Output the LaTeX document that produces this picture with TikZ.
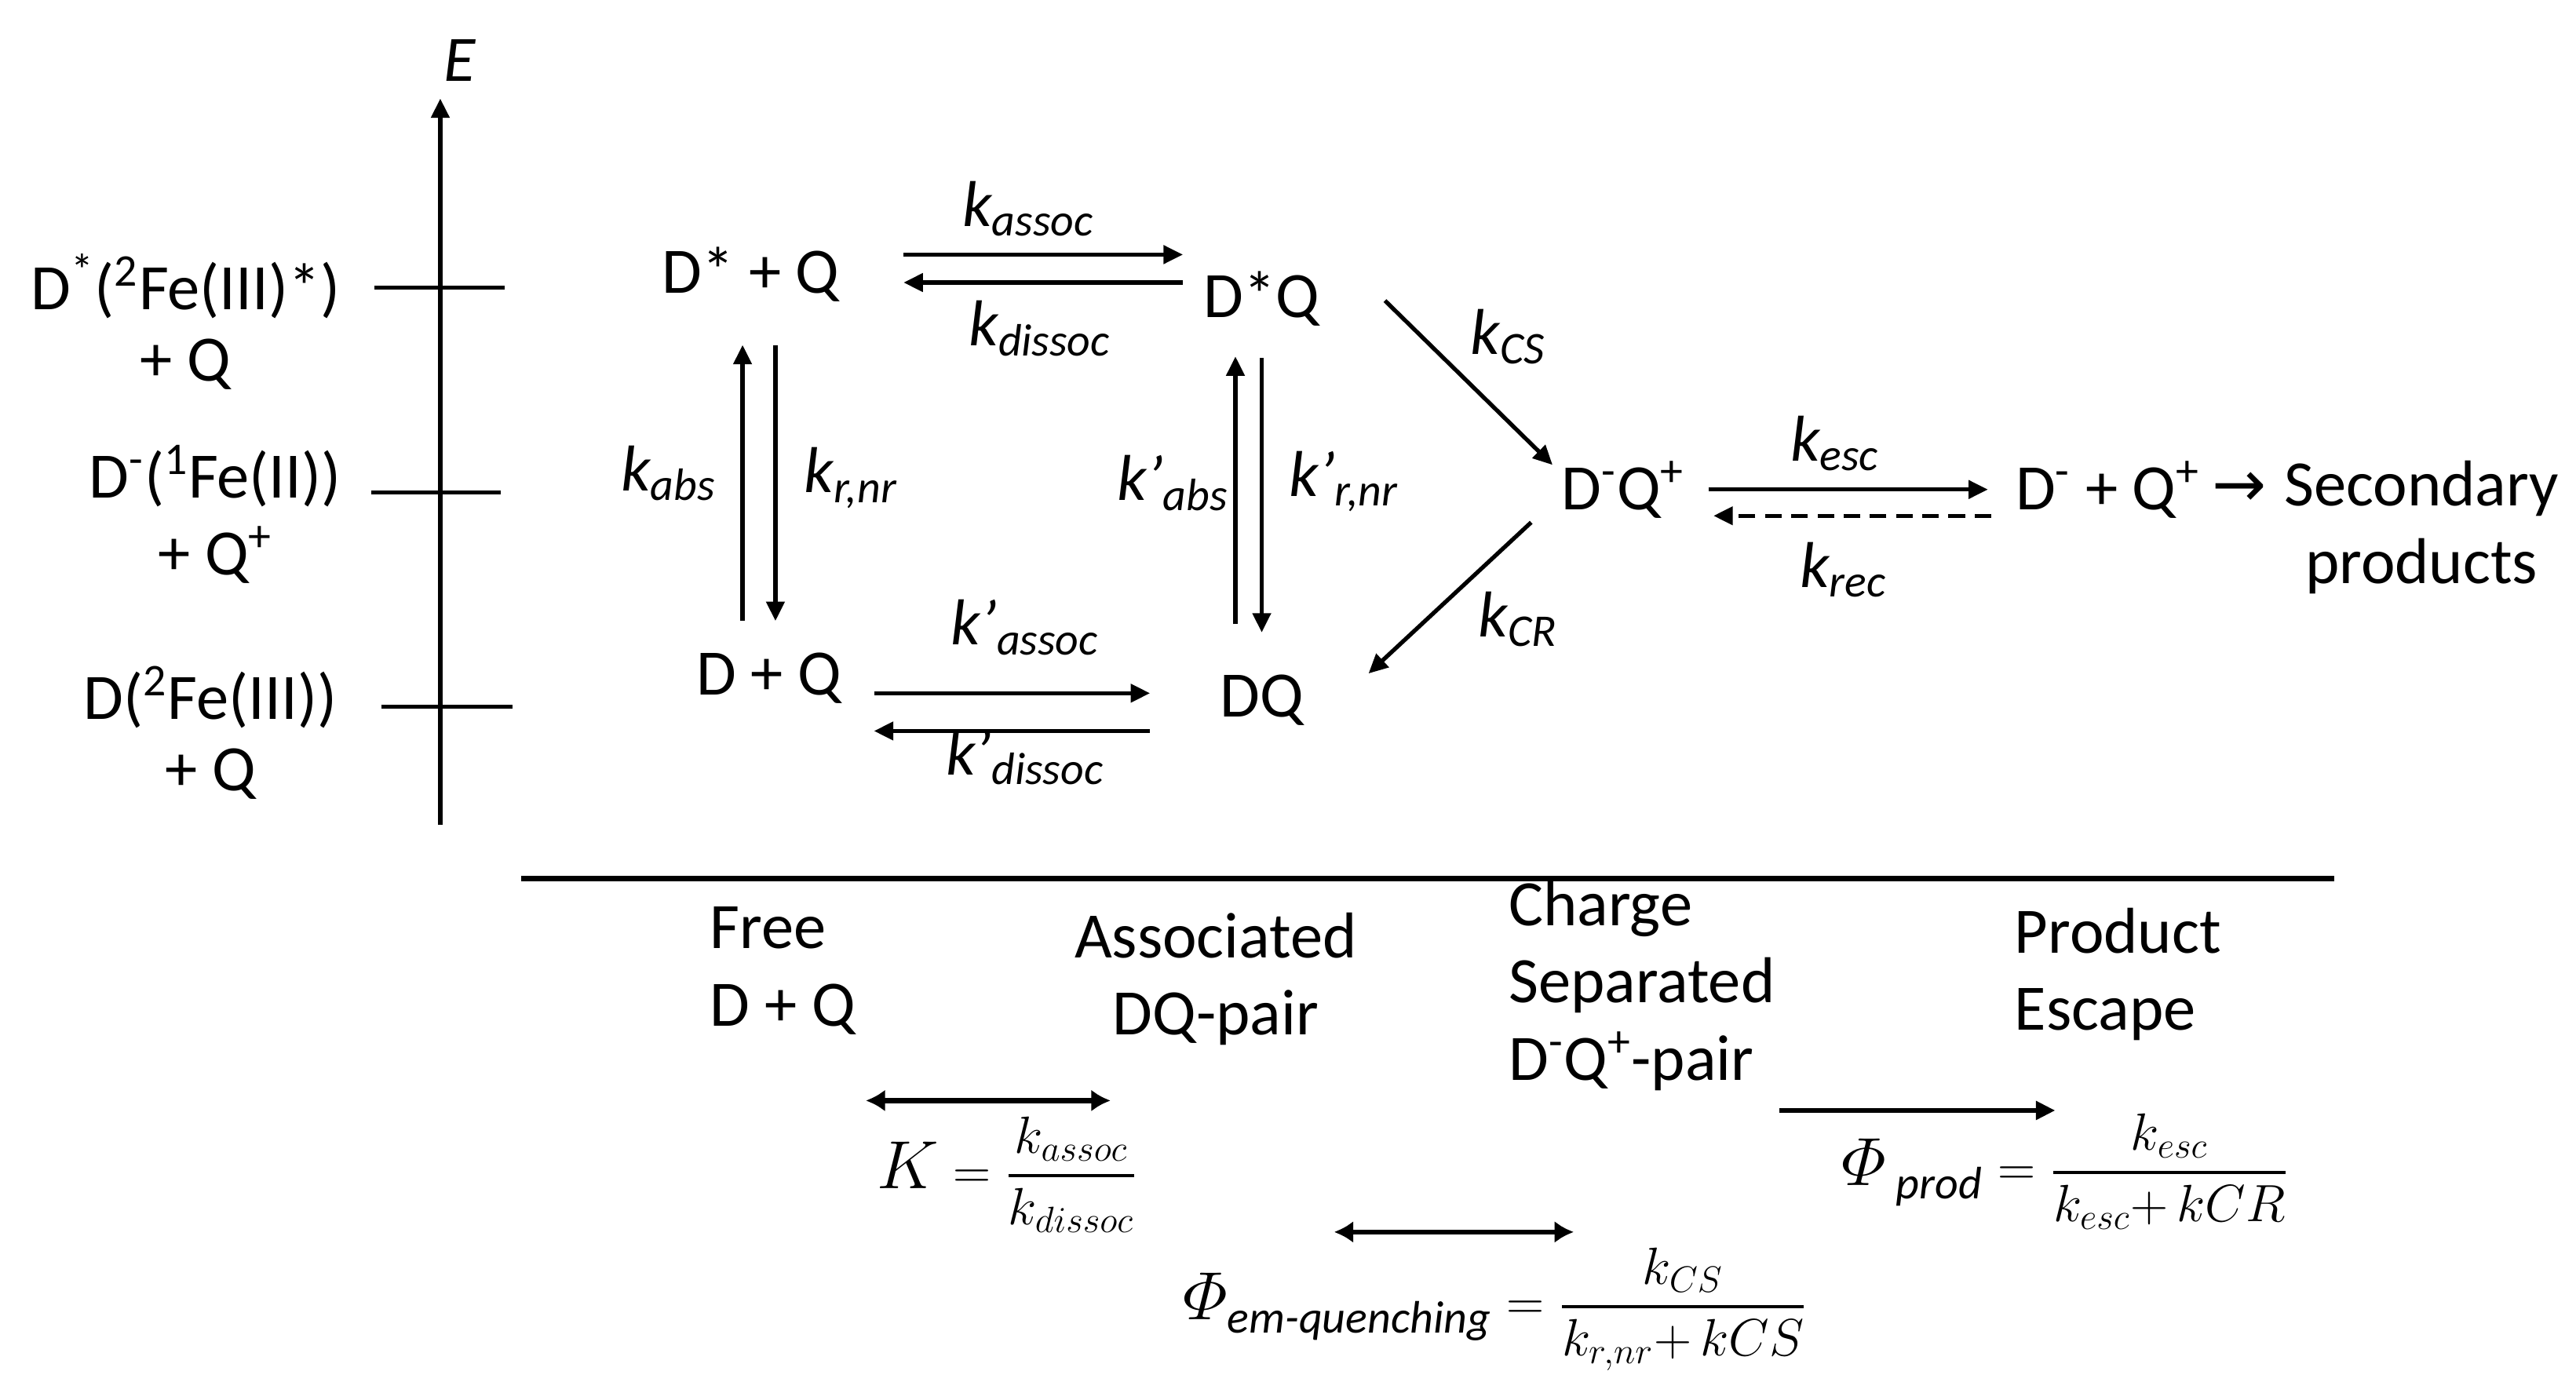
\documentclass[tikz,border=0pt]{standalone}
\usepackage{fix-cm}
\usepackage{amsmath}
\usepackage{graphicx}
\usepackage{fontspec}
\setmainfont{Carlito}
\newfontfamily\djv{DejaVu Sans}
\usetikzlibrary{arrows.meta,calc}
\tikzset{
  txt/.style={font=\fontsize{23.5}{28}\selectfont, inner sep=0pt},
  lefttxt/.style={font=\fontsize{23.5}{26}\selectfont, inner sep=0pt, align=center},
  klab/.style={font=\fontsize{23.5}{28}\selectfont\itshape, inner sep=0pt},
  fml/.style={font=\fontsize{19}{23}\selectfont, inner sep=0pt},
  arr/.style={line width=1.5pt, -{Triangle[length=7pt,width=6.5pt]}},
  dashedarr/.style={arr, dash pattern=on 6pt off 3.5pt},
  dbl/.style={line width=1.8pt, {Latex[length=7pt,width=8pt]}-{Latex[length=7pt,width=8pt]}},
  tickline/.style={line width=1.4pt},
  sepline/.style={line width=2pt}
}
\newcommand{\kk}[1]{k\textsubscript{#1}}
\newcommand{\kp}[1]{k’\textsubscript{#1}}
\newcommand{\tfr}[2]{\genfrac{}{}{1.1pt}{0}{#1}{#2}}
\newcommand{\bigphi}{\scalebox{1.3}{$\varPhi$}}
\newcommand{\subtxt}[1]{\text{\fontsize{16.5}{19}\selectfont\itshape #1}}
\begin{document}
\begin{tikzpicture}[x=0.02093cm,y=-0.02093cm]
\useasboundingbox (0,0) rectangle (1568,848);

% energy axis
\coordinate (axb) at (268,502);
\coordinate (axt) at (268,60);
\draw[arr, line width=1.6pt] (axb) -- (axt);
\node[klab] (E) at (280,37) {E};
\coordinate (t1a) at (228,175); \coordinate (t1b) at (307,175);
\coordinate (t2a) at (226,300); \coordinate (t2b) at (305,300);
\coordinate (t3a) at (232,430); \coordinate (t3b) at (312,430);
\draw[tickline] (t1a) -- (t1b);
\draw[tickline] (t2a) -- (t2b);
\draw[tickline] (t3a) -- (t3b);
\node[lefttxt] (L1) at (113,196) {D\textsuperscript{*}(\textsuperscript{2}Fe(III)*)\\+ Q};
\node[lefttxt, font=\fontsize{23.5}{28}\selectfont] (L2) at (131,313) {D\textsuperscript{-}(\textsuperscript{1}Fe(II))\\+ Q\textsuperscript{+}};
\node[lefttxt] (L3) at (128,446) {D(\textsuperscript{2}Fe(III))\\+ Q};

% species
\node[txt] (DsQ) at (457,167) {D* + Q};
\node[txt] (DsQc) at (768,182) {D*Q};
\node[txt] (DQf) at (468,413) {D + Q};
\node[txt] (DQ) at (768,426) {DQ};
\node[txt] (DmQp) at (988,298) {D\textsuperscript{-}Q\textsuperscript{+}};
\node[txt] (esc) at (1283,298) {D\textsuperscript{-} + Q\textsuperscript{+}};
\node[txt] (gl) at (1363,298) {\djv →};
\node[txt, align=center] (sec) at (1474,321) {Secondary\\products};

% reaction arrows
\draw[arr] ($(DsQ)+(93,-12)$) -- ($(DsQc)+(-48,-27)$);
\draw[arr] ($(DsQc)+(-48,-10)$) -- ($(DsQ)+(93,5)$);
\draw[arr] ($(DQf)+(-16,-35)$) -- ($(DsQ)+(-5,43)$);
\draw[arr] ($(DsQ)+(15,43)$) -- ($(DQf)+(4,-35)$);
\draw[arr] ($(DQ)+(-16,-46)$) -- ($(DsQc)+(-16,35)$);
\draw[arr] ($(DsQc)+(0,36)$) -- ($(DQ)+(0,-41)$);
\draw[arr] ($(DQf)+(64,9)$) -- ($(DQ)+(-68,-4)$);
\draw[arr] ($(DQ)+(-68,19)$) -- ($(DQf)+(64,32)$);
\draw[arr] ($(DsQc)+(75,1)$) -- ($(DmQp)+(-43,-15)$);
\draw[arr] ($(DmQp)+(-56,20)$) -- ($(DQ)+(65,-16)$);
\draw[arr] ($(DmQp)+(52,0)$) -- ($(esc)+(-73,0)$);
\draw[dashedarr] ($(esc)+(-71,16)$) -- ($(DmQp)+(55,16)$);

% rate labels
\node[klab] (kassoc) at (626,127) {\kk{assoc}};
\node[klab] (kdissoc) at (633,200) {\kk{dissoc}};
\node[klab] (kabs) at (407,288) {\kk{abs}};
\node[klab] (krnr) at (518,291) {\kk{r,nr}};
\node[klab] (kpabs) at (714,294) {\kp{abs}};
\node[klab] (kprnr) at (818,293) {\kp{r,nr}};
\node[klab] (kpassoc) at (624,382) {\kp{assoc}};
\node[klab] (kpdissoc) at (624,461) {\kp{dissoc}};
\node[klab] (kCS) at (918,205) {\kk{CS}};
\node[klab] (kCR) at (924,377) {\kk{CR}};
\node[klab] (kesc) at (1117,270) {\kk{esc}};
\node[klab] (krec) at (1122,347) {\kk{rec}};

% separator
\coordinate (sepL) at (317,535);
\coordinate (sepR) at (1421,535);
\draw[sepline] (sepL) -- (sepR);

% stage labels
\node[txt, align=left, anchor=west] (free) at (432,591) {Free\\D + Q};
\node[txt, align=center] (assoc) at (740,596) {Associated\\DQ-pair};
\node[txt, align=left, anchor=west] (cs) at (918,600) {Charge\\Separated\\D\textsuperscript{-}Q\textsuperscript{+}-pair};
\node[txt, align=left, anchor=west] (pe) at (1226,593) {Product\\Escape};

% bottom arrows
\coordinate (d1a) at (527,670); \coordinate (d1b) at (676,670);
\coordinate (d2a) at (812,750); \coordinate (d2b) at (958,750);
\coordinate (d3a) at (1083,676); \coordinate (d3b) at (1251,676);
\draw[dbl] (d1a) -- (d1b);
\draw[dbl] (d2a) -- (d2b);
\draw[arr, line width=1.8pt] (d3a) -- (d3b);

% formulas
\node[fml] (Kf) at (613,715) {$\scalebox{1.3}{$K$} = \tfr{k_{assoc}}{k_{dissoc}}$};
\node[fml] (Phq) at (910,797) {$\bigphi_{\subtxt{em-quenching}} = \tfr{k_{CS}}{k_{r,nr}{+}\,kCS}$};
\node[fml] (Php) at (1257,713) {$\bigphi_{\;\subtxt{prod}} = \tfr{k_{esc}}{k_{esc}{+}\,kCR}$};
\end{tikzpicture}
\end{document}
